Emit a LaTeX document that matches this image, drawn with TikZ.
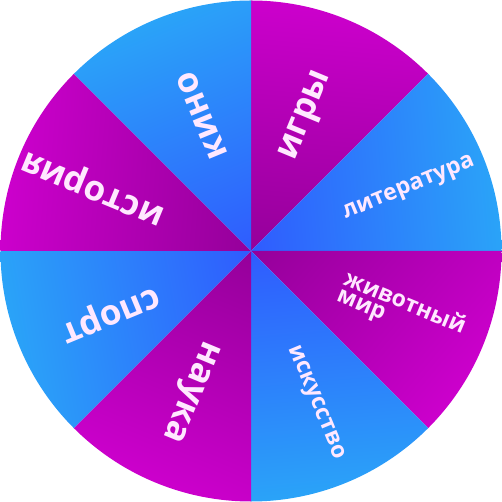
\documentclass[tikz,border=0pt]{standalone}
\usepackage{fontspec}
\setmainfont{Open Sans}
\definecolor{pdark}{HTML}{8C0092}
\definecolor{plight}{HTML}{CE00CE}
\definecolor{bdark}{HTML}{3050FF}
\definecolor{blight}{HTML}{2AA6F8}
\definecolor{txtcol}{HTML}{FFE8FF}
\newcommand\wheelR{250.5}
% #1 start angle, #2 end angle, #3 bright direction, #4 colour prefix
\newcommand\wheelsector[4]{%
  \begin{scope}
    \clip (0,0) -- (#1:\wheelR) arc[start angle=#1,end angle=#2,radius=\wheelR] -- cycle;
    \begin{scope}[transform canvas={rotate=#3-90}]
      \shade[bottom color=#4dark, top color=#4light] (-260,-40) rectangle (260,260);
    \end{scope}
  \end{scope}}
\tikzset{
  lbl/.style={text=txtcol, inner sep=0pt, font=\bfseries},
  bigl/.style={lbl, font=\fontsize{35}{35}\selectfont\bfseries},
  smalll/.style={lbl, font=\fontsize{23}{18}\selectfont\bfseries}
}
\begin{document}
\begin{tikzpicture}[x=1pt,y=1pt]
\useasboundingbox (-251,-251) rectangle (251,251);
\wheelsector{45}{90}{85}{p}
\wheelsector{0}{45}{5}{b}
\wheelsector{-45}{0}{-40}{p}
\wheelsector{-90}{-45}{-85}{b}
\wheelsector{-135}{-90}{-112.5}{p}
\wheelsector{180}{225}{190}{b}
\wheelsector{135}{180}{175}{p}
\wheelsector{90}{135}{112.5}{b}
\node[bigl, rotate=67.5] (igry) at (67.5:146) {игры};
\node[smalll, rotate=22.5] (lit) at (21.5:170) {литература};
\node[smalll, rotate=-22.5, align=left] (zhiv) at (-22:162) {животный\\мир};
\node[smalll, rotate=-67.5] (isk) at (-67:165) {искусство};
\node[bigl, rotate=-112.5] (nauka) at (-114:153) {наука};
\node[bigl, rotate=-157.5] (sport) at (-156.6:154) {спорт};
\node[bigl, rotate=157.5] (ist) at (157.5:170) {история};
\node[bigl, rotate=112.5] (kino) at (110:144) {кино};
\end{tikzpicture}
\end{document}
